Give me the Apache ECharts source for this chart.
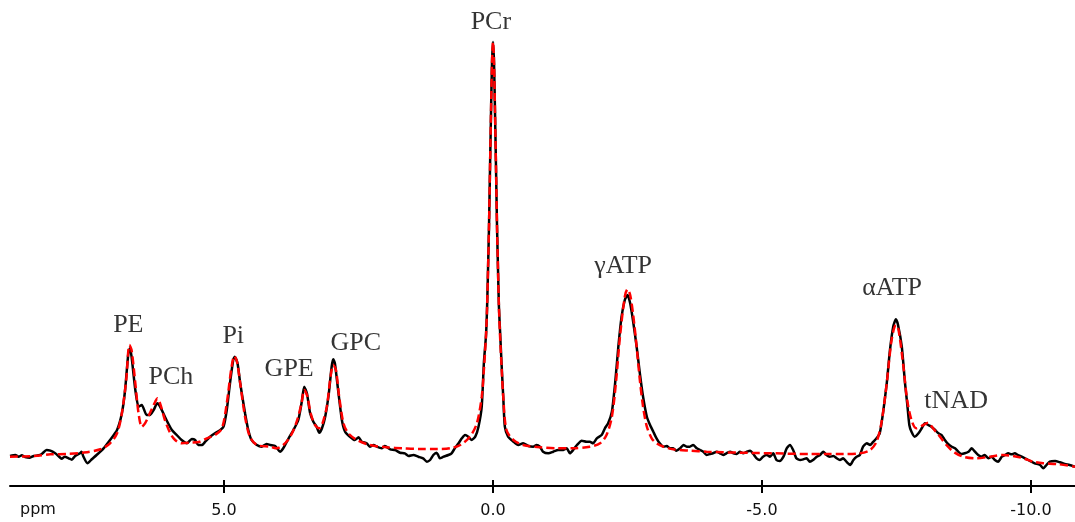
<!DOCTYPE html>
<html>
<head>
<meta charset="utf-8">
<script src="https://cdn.jsdelivr.net/npm/echarts@6/dist/echarts.min.js"></script>
<style>
html,body{margin:0;padding:0;background:#fff;}
#chart{width:1075px;height:522px;}
</style>
</head>
<body>
<div id="chart"></div>
<script>
// Measured spectrum (black), [ppm, intensity a.u.]
const measured = [
[8.98,30],[8.88,31],[8.82,29.3],[8.76,30.7],[8.70,29],[8.61,28.3],[8.54,30],[8.45,30.7],[8.39,32],[8.30,36],
[8.23,35.3],[8.14,32.7],[8.08,30],[8.02,27.3],[7.96,29.3],[7.89,27.7],[7.83,26.3],[7.77,30],[7.68,32.7],[7.65,34.3],
[7.62,30],[7.54,22.7],[7.46,26.7],[7.37,31],[7.24,37.7],[7.12,46],[6.99,56],[6.90,72.7],[6.84,96],[6.78,132.7],
[6.75,137.7],[6.72,129.3],[6.65,96],[6.59,79.3],[6.53,81],[6.44,71],[6.38,71],[6.31,76],[6.24,82.7],[6.19,79.3],
[6.10,69.3],[6.04,62.7],[5.97,56],[5.88,51],[5.79,46],[5.69,42.7],[5.60,47],[5.54,46],[5.48,41],[5.41,41],
[5.35,44.3],[5.26,49.3],[5.17,52.7],[5.07,56],[5.01,59.3],[4.95,76],[4.89,102.7],[4.83,126],[4.80,129.3],[4.75,122.7],
[4.70,102.7],[4.61,72.7],[4.55,56],[4.49,46],[4.39,41],[4.30,39.3],[4.21,42],[4.14,41],[4.05,40],[3.96,34.3],
[3.90,37.7],[3.80,47.7],[3.71,56],[3.62,66],[3.56,82.7],[3.51,99.3],[3.46,92.7],[3.40,72.7],[3.34,64.3],[3.28,59.3],
[3.23,53.3],[3.18,57.7],[3.12,69.3],[3.06,89.3],[3.00,119.3],[2.97,126.7],[2.94,122.7],[2.88,96],[2.81,66],[2.75,54.3],
[2.66,49.3],[2.57,46],[2.50,48.7],[2.44,44.3],[2.35,42.7],[2.29,39.3],[2.22,41],[2.16,39.3],[2.07,37.7],[2.01,40],
[1.91,36.7],[1.82,36],[1.73,33.3],[1.64,32.7],[1.57,30],[1.48,31],[1.39,29.3],[1.30,27.7],[1.23,24.3],[1.17,26],
[1.11,31],[1.05,33.3],[1.02,31],[0.99,27.7],[0.92,29.3],[0.83,31],[0.77,32.7],[0.71,37.7],[0.64,42.7],[0.58,47.7],
[0.52,51],[0.46,49.3],[0.40,46],[0.33,49.3],[0.27,59.3],[0.21,79.3],[0.17,123],[0.13,151],[0.11,179],[0.093,216],
[0.074,261],[0.056,317],[0.037,374],[0.019,423],[0,444],[-0.019,423],[-0.037,374],[-0.056,317],[-0.074,261],[-0.093,216],
[-0.11,179],[-0.13,156],[-0.16,121],[-0.19,89.3],[-0.22,59.3],[-0.28,49.3],[-0.38,44.3],[-0.47,41],[-0.56,42.7],[-0.66,40],
[-0.75,39.3],[-0.81,41],[-0.87,39.3],[-0.93,34.3],[-1.03,32.7],[-1.12,34.3],[-1.21,36],[-1.31,36],[-1.37,37.7],[-1.43,32.7],
[-1.49,36],[-1.56,41],[-1.65,45.3],[-1.74,44.3],[-1.80,44.3],[-1.86,42.7],[-1.93,47.7],[-2.02,51],[-2.08,57.7],[-2.14,62.7],
[-2.21,74.3],[-2.27,102.7],[-2.33,139.3],[-2.39,169.3],[-2.45,186],[-2.50,191],[-2.55,182.7],[-2.61,162.7],[-2.67,139.3],[-2.73,112.7],
[-2.79,89.3],[-2.86,69.3],[-2.92,61],[-2.98,54.3],[-3.04,47.7],[-3.10,42.7],[-3.17,39.3],[-3.23,40],[-3.29,37.7],[-3.35,37.7],
[-3.41,35.3],[-3.48,37.7],[-3.54,41],[-3.60,39.3],[-3.66,39.3],[-3.72,41],[-3.79,37.7],[-3.85,36],[-3.91,34.3],[-3.97,31],
[-4.03,32],[-4.09,32.7],[-4.16,34.3],[-4.22,32.7],[-4.28,31],[-4.34,32.7],[-4.41,34.3],[-4.47,32.7],[-4.53,32],[-4.59,34.3],
[-4.65,32.7],[-4.72,34.3],[-4.78,35.3],[-4.84,32],[-4.90,27.7],[-4.96,26],[-5.02,29.3],[-5.09,31],[-5.15,29.3],[-5.21,32.7],
[-5.27,26],[-5.33,25],[-5.40,29.3],[-5.46,37.7],[-5.52,41],[-5.58,36],[-5.64,27.7],[-5.71,26],[-5.77,26.7],[-5.83,27.7],
[-5.89,24.3],[-5.95,26],[-6.02,29.3],[-6.08,31],[-6.14,34.3],[-6.20,31],[-6.26,29.3],[-6.33,30],[-6.39,27.7],[-6.45,26],
[-6.51,27.7],[-6.57,24.3],[-6.64,21],[-6.70,26],[-6.76,29.3],[-6.82,31],[-6.88,39.3],[-6.95,42.7],[-7.01,41],[-7.07,44.3],
[-7.13,47.7],[-7.19,52.7],[-7.25,72.7],[-7.32,102.7],[-7.38,136],[-7.44,159.3],[-7.49,166.7],[-7.53,161],[-7.60,139.3],[-7.66,102.7],
[-7.70,82.7],[-7.74,61],[-7.78,54.3],[-7.84,49.3],[-7.91,52.7],[-7.97,57.7],[-8.03,62.7],[-8.09,61],[-8.15,59.3],[-8.22,56],
[-8.28,52.7],[-8.34,51],[-8.40,46],[-8.46,42],[-8.53,39.3],[-8.59,37.7],[-8.65,34.3],[-8.71,32],[-8.77,32.7],[-8.84,34.3],
[-8.90,37.7],[-8.96,34.3],[-9.02,31],[-9.08,29.3],[-9.14,31],[-9.21,27.7],[-9.27,29.3],[-9.33,26],[-9.39,24.3],[-9.46,29.3],
[-9.52,31],[-9.58,32.7],[-9.64,31.7],[-9.70,32.7],[-9.76,31],[-9.83,29.3],[-9.89,27.7],[-9.95,26],[-10.01,24.3],[-10.07,22.7],
[-10.17,21],[-10.23,17.7],[-10.29,21],[-10.35,24.3],[-10.45,25],[-10.54,23.7],[-10.63,22],[-10.72,21],[-10.82,19.3]
];

// Fitted spectrum (red dashed), [ppm, intensity a.u.]
const fitted = [
[8.98,29.3],[8.54,30],[8.23,31.7],[7.92,32],[7.62,33.3],[7.30,36.7],[7.12,42.7],[6.99,52.7],[6.90,72.7],[6.82,106],
[6.76,141],[6.72,136],[6.65,102.7],[6.59,72.7],[6.53,59.3],[6.47,62.7],[6.38,72.7],[6.28,84.3],[6.24,87.7],[6.19,82.7],
[6.10,66],[6.00,52.7],[5.91,46],[5.79,42.7],[5.63,43.3],[5.45,44.3],[5.32,47.7],[5.17,51],[5.04,57.7],[4.95,82.7],
[4.86,119.3],[4.81,130],[4.76,124.3],[4.70,102.7],[4.61,69.3],[4.52,49.3],[4.39,41],[4.14,39.3],[4.02,37.7],[3.90,41],
[3.77,49.3],[3.65,64.3],[3.56,82.7],[3.51,96],[3.45,89.3],[3.39,72.7],[3.31,61],[3.23,57.7],[3.17,62.7],[3.09,79.3],
[3.02,109.3],[2.97,121],[2.92,116],[2.86,89.3],[2.78,62.7],[2.69,52.7],[2.53,46],[2.29,41],[1.98,38.7],[1.67,37.7],
[1.36,37],[1.05,37],[0.80,37.7],[0.61,41],[0.43,49.3],[0.30,62.7],[0.21,89.3],[0.17,116],[0.13,151],[0.11,179],
[0.093,216],[0.074,261],[0.056,317],[0.037,374],[0.019,423],[0,444],[-0.019,423],[-0.037,374],[-0.056,317],[-0.074,261],
[-0.093,216],[-0.11,179],[-0.13,151],[-0.16,118],[-0.19,89.3],[-0.25,56],[-0.38,46],[-0.56,41],[-0.87,38.7],[-1.18,37.7],
[-1.49,37.7],[-1.80,39.3],[-1.99,42.7],[-2.11,51],[-2.21,69.3],[-2.29,106],[-2.36,149.3],[-2.45,189.3],[-2.50,196.7],[-2.55,191],
[-2.61,169.3],[-2.67,139.3],[-2.73,106],[-2.79,79.3],[-2.86,59.3],[-2.95,47.7],[-3.04,42.7],[-3.17,39.3],[-3.35,36.7],[-3.66,35.3],
[-3.97,34.3],[-4.59,33.3],[-5.21,32.7],[-5.89,32],[-6.20,32],[-6.51,32],[-6.82,32.7],[-7.01,36],[-7.13,44.3],[-7.22,62.7],
[-7.32,102.7],[-7.41,146],[-7.49,161],[-7.54,156],[-7.63,119.3],[-7.70,86],[-7.78,66],[-7.87,57.7],[-8.00,61],[-8.09,63.3],
[-8.18,57.7],[-8.31,49.3],[-8.43,41],[-8.56,34.3],[-8.74,29.3],[-8.99,27.7],[-9.24,29.3],[-9.49,31],[-9.67,30],[-9.86,27.7],
[-10.04,24.3],[-10.23,22.7],[-10.48,22],[-10.82,19.3]
];

// Peak annotations
const peakNames = ['PE','PCh','Pi','GPE','GPC','PCr','γATP','αATP','tNAD'];
const peakLabelPpm = [6.78, 5.99, 4.83, 3.79, 2.55, 0.04, -2.42, -7.42, -8.61];
const peakLabelHeight = [161, 109, 150, 117, 143, 464, 220, 198, 85];

// Axis
const xTicks = [5, 0, -5, -10];
const xMin = -10.82, xMax = 8.98;

const labelData = peakNames.map((n, i) => ({ name: n, value: [peakLabelPpm[i], peakLabelHeight[i]] }));

const chart = echarts.init(document.getElementById('chart'), null, { renderer: 'canvas' });
const axisCommon = { type: 'value', inverse: true, min: xMin, max: xMax, splitLine: { show: false } };
chart.setOption({
  animation: false,
  backgroundColor: '#fff',
  grid: { left: 10, right: 0, top: 0, bottom: 36, containLabel: false },
  xAxis: [
    Object.assign({}, axisCommon, {
      position: 'bottom',
      axisLine: { show: true, onZero: false, lineStyle: { color: '#000', width: 2 } },
      axisTick: { show: true, inside: false, length: 7, customValues: xTicks, lineStyle: { color: '#000', width: 2 } },
      axisLabel: {
        show: true, customValues: xTicks, margin: 17, color: '#111',
        fontFamily: 'DejaVu Sans', fontSize: 16,
        formatter: v => v.toFixed(1)
      }
    }),
    Object.assign({}, axisCommon, {
      position: 'bottom', offset: 0,
      axisLine: { show: false, onZero: false },
      axisTick: { show: true, inside: true, length: 6, customValues: xTicks, lineStyle: { color: '#000', width: 2 } },
      axisLabel: { show: false }
    })
  ],
  yAxis: { type: 'value', min: 0, max: 486, show: false },
  graphic: [{
    type: 'text', left: 20, top: 502,
    style: { text: 'ppm', fontFamily: 'DejaVu Sans', fontSize: 16, fill: '#111' }
  }],
  series: [
    {
      type: 'line', name: 'measured', data: measured, xAxisIndex: 0,
      showSymbol: false, smooth: 0.2,
      lineStyle: { color: '#000', width: 2.5 }, z: 2
    },
    {
      type: 'line', name: 'fit', data: fitted, xAxisIndex: 0,
      showSymbol: false, smooth: 0.3,
      lineStyle: { color: '#ff0000', width: 2.5, type: [8, 4] }, z: 3
    },
    {
      type: 'scatter', name: 'labels', data: labelData, xAxisIndex: 0,
      symbolSize: 0, silent: true,
      label: {
        show: true, position: 'inside', formatter: p => p.name,
        fontFamily: 'Liberation Serif', fontSize: 26, color: '#000'
      }, z: 4
    }
  ]
});
</script>
</body>
</html>
